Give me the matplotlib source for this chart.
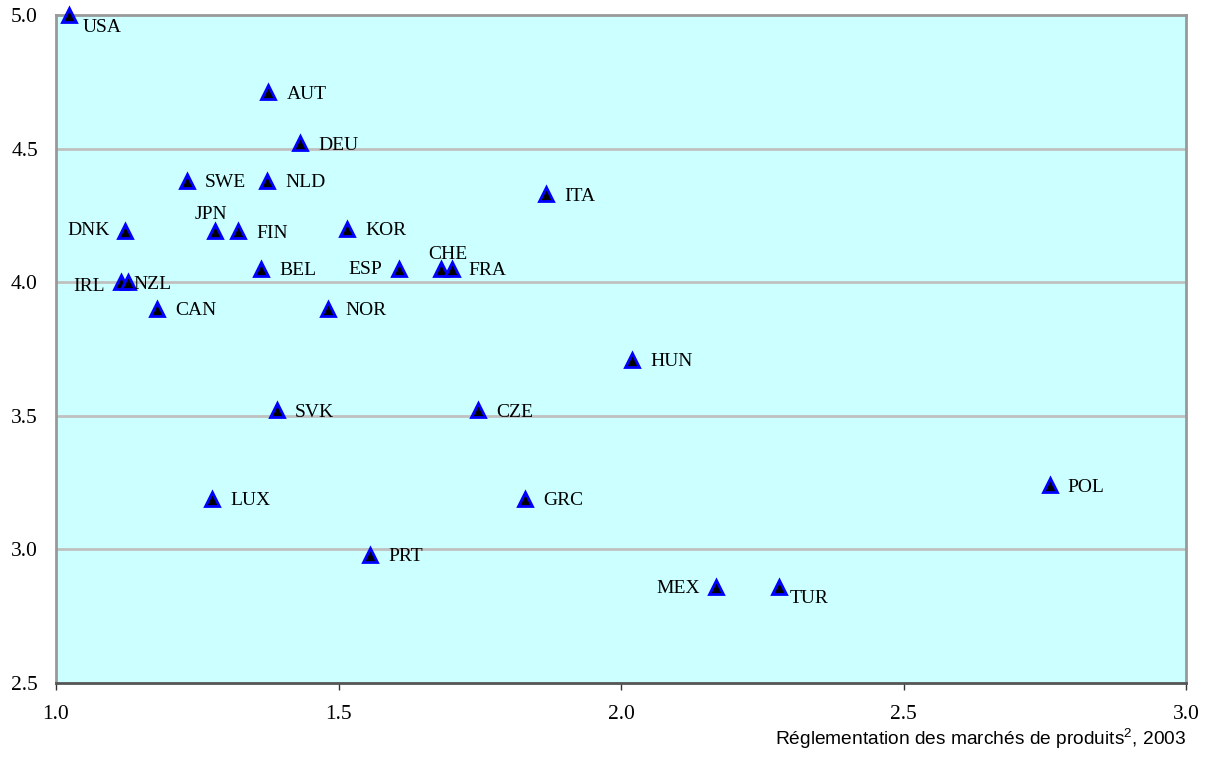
import matplotlib
matplotlib.use("Agg")
import matplotlib.pyplot as plt

plt.rcParams['mathtext.fontset'] = 'custom'
plt.rcParams['mathtext.rm'] = 'Liberation Sans'

countries = ["USA", "AUT", "DEU", "SWE", "NLD", "ITA", "DNK", "JPN", "FIN", "KOR",
             "BEL", "ESP", "CHE", "FRA", "IRL", "NZL", "CAN", "NOR", "HUN", "SVK",
             "CZE", "POL", "LUX", "GRC", "PRT", "MEX", "TUR"]
pmr = [1.023, 1.376, 1.432, 1.232, 1.374, 1.867, 1.122, 1.281, 1.322, 1.515,
       1.363, 1.607, 1.681, 1.701, 1.115, 1.128, 1.179, 1.481, 2.020, 1.391,
       1.747, 2.759, 1.276, 1.830, 1.556, 2.168, 2.280]
values = [5.00, 4.71, 4.52, 4.38, 4.38, 4.33, 4.19, 4.19, 4.19, 4.20,
          4.05, 4.05, 4.05, 4.05, 4.00, 4.00, 3.90, 3.90, 3.71, 3.52,
          3.52, 3.24, 3.19, 3.19, 2.98, 2.86, 2.86]

xticks = [1.0, 1.5, 2.0, 2.5, 3.0]
yticks = [2.5, 3.0, 3.5, 4.0, 4.5, 5.0]
xlabel = "Réglementation des marchés de produits$^{\\mathrm{2}}$, 2003"

# label placement (offset in px, alignment)
label_pos = {
    "USA": (14, -11, "left"),
    "DNK": (-15, 3, "right"),
    "JPN": (-4, 19, "center"),
    "IRL": (-16, -2, "right"),
    "NZL": (5, 0, "left"),
    "ESP": (-17, 1, "right"),
    "CHE": (7, 16, "center"),
    "FRA": (16, 0, "left"),
    "MEX": (-16, 0, "right"),
    "TUR": (10, -10, "left"),
}

W, H = 1226, 762
fig = plt.figure(figsize=(W / 100, H / 100), dpi=100)
ax = fig.add_axes([56 / W, 1 - 683 / H, (1186 - 56) / W, (683 - 15) / H])
ax.set_facecolor("#CCFFFF")
ax.set_xlim(1.0, 3.0)
ax.set_ylim(2.5, 5.0)
ax.set_xticks(xticks)
ax.set_yticks(yticks)
ax.set_xticklabels([f"{t:.1f}" for t in xticks], family="Liberation Serif", fontsize=15.5)
ax.set_yticklabels([f"{t:.1f}" for t in yticks], family="Liberation Serif", fontsize=15.5)
ax.tick_params(axis="x", direction="out", length=5, width=1, color="#333333", pad=11)
ax.tick_params(axis="y", length=0, pad=13)
for t in yticks[1:-1]:
    ax.axhline(t, color="#C0C0C0", lw=2, zorder=1)
for s in ["left", "top", "right"]:
    ax.spines[s].set_color("#999999")
    ax.spines[s].set_linewidth(2)
ax.spines["bottom"].set_color("#555555")
ax.spines["bottom"].set_linewidth(2)

ax.plot(pmr, values, linestyle="none", marker="^", markersize=10.5,
        markerfacecolor="black", markeredgecolor="#0000FF", markeredgewidth=2,
        zorder=3, clip_on=False)

for c, x, y in zip(countries, pmr, values):
    dx, dy, ha = label_pos.get(c, (18, 0, "left"))
    ax.annotate(c, (x, y), xytext=(dx * 0.72, (dy - 2) * 0.72), textcoords="offset points",
                ha=ha, va="center", family="Liberation Serif", fontsize=14,
                color="black", zorder=4, annotation_clip=False)

fig.text(1186 / W, 1 - 739 / H, xlabel, ha="right", va="center",
         family="Liberation Sans", fontsize=13.8)

fig.savefig("out.png", dpi=100)
